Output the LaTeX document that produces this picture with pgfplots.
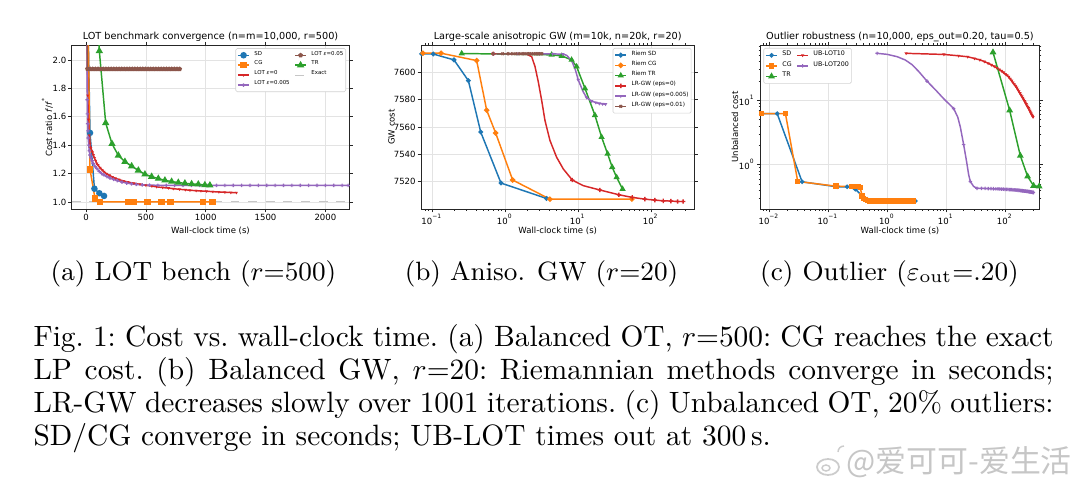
\documentclass[border=0pt]{standalone}
\usepackage{fontspec}
\usepackage{pgfplots}
\pgfplotsset{compat=1.18}
\newfontfamily\dejavu{DejaVu Sans}
\newfontfamily\cjk{Noto Sans CJK SC}
\definecolor{tblue}{HTML}{1F77B4}
\definecolor{torange}{HTML}{FF7F0E}
\definecolor{tgreen}{HTML}{2CA02C}
\definecolor{tred}{HTML}{D62728}
\definecolor{tpurple}{HTML}{9467BD}
\definecolor{tbrown}{HTML}{8C564B}
\newcommand\titlef{\dejavu\fontsize{3.3}{3.9}\selectfont}
\newcommand\labf{\dejavu\fontsize{2.9}{3.4}\selectfont}
\newcommand\tickf{\dejavu\fontsize{2.9}{3.4}\selectfont}
\newcommand\legA{\dejavu\fontsize{1.85}{2.2}\selectfont}
\newcommand\legB{\dejavu\fontsize{1.95}{2.3}\selectfont}
\newcommand\legC{\dejavu\fontsize{2.15}{2.5}\selectfont}
\newcommand\capf{\fontsize{10}{11.2}\selectfont\frenchspacing}
\pgfdeclareplotmark{v}{\pgfpathmoveto{\pgfqpoint{0pt}{-\pgfplotmarksize}}\pgfpathlineto{\pgfqpoint{0.866\pgfplotmarksize}{0.5\pgfplotmarksize}}\pgfpathlineto{\pgfqpoint{-0.866\pgfplotmarksize}{0.5\pgfplotmarksize}}\pgfpathclose\pgfusepathqfill}
\pgfdeclareplotmark{P}{\pgfpathrectangle{\pgfqpoint{-\pgfplotmarksize}{-0.33\pgfplotmarksize}}{\pgfqpoint{2\pgfplotmarksize}{0.66\pgfplotmarksize}}\pgfpathrectangle{\pgfqpoint{-0.33\pgfplotmarksize}{-\pgfplotmarksize}}{\pgfqpoint{0.66\pgfplotmarksize}{2\pgfplotmarksize}}\pgfusepathqfill}
\pgfplotsset{
  mpl/.style={
    scale only axis, anchor=south west, height=55.76pt,
    axis line style={line width=0.28pt, black!85},
    tick style={line width=0.25pt, black!85},
    tick align=outside, major tick length=1.15pt, minor tick length=0.65pt,
    xmajorgrids, ymajorgrids,
    major grid style={line width=0.22pt, gray!22},
    /pgf/number format/assume math mode=true,
    /pgf/number format/1000 sep={},
    tick label style={font=\tickf, inner sep=0.5pt},
    title style={font=\titlef, inner sep=0pt, anchor=base, at={(axis description cs:0.5,1)}, yshift=-4.2pt},
    xlabel style={font=\labf, inner sep=0pt, anchor=base, at={(axis description cs:0.5,0)}, yshift=-8.3pt},
    ylabel style={font=\labf, inner sep=0pt, anchor=center, at={(axis description cs:0,0.5)}},
    legend cell align=left,
    legend image code/.code={\draw[mark repeat=2,mark phase=2] plot coordinates {(0pt,0pt) (1.9pt,0pt) (3.8pt,0pt)};},
    legend style={draw=gray!35, line width=0.2pt, rounded corners=0.5pt, fill=white, inner sep=0.5pt, row sep=-0.2pt, column sep=1.2pt, nodes={inner sep=0.35pt}},
  },
  lw/.style={line width=0.5pt},
}
\begin{document}
\begin{tikzpicture}
\path[use as bounding box] (0,0) rectangle (367.2pt,-166.26pt);
% ---------------- (a) ----------------
\begin{axis}[mpl, at={(24.38pt,-71.06pt)}, width=94.38pt,
  xmin=-120, xmax=2200, ymin=0.95, ymax=2.105,
  xtick={0,500,1000,1500,2000}, ytick={1.0,1.2,1.4,1.6,1.8,2.0},
  yticklabel style={/pgf/number format/.cd,fixed,fixed zerofill,precision=1},
  title={LOT benchmark convergence (n=m=10,000, r=500)},
  xlabel={Wall-clock time (s)},
  ylabel={Cost ratio \textit{f}/\textit{f}\textsuperscript{*}},
  ylabel style={yshift=8.3pt},
  legend columns=2,
  legend style={at={(axis description cs:1,1)}, anchor=north east, xshift=-1.1pt, yshift=-1.1pt, font=\legA},
]
\addlegendimage{tblue, lw, mark=*, mark size=0.85pt}\addlegendentry{SD}
\addlegendimage{tbrown, lw, mark=pentagon*, mark size=0.55pt}\addlegendentry{LOT \textit{ε}=0.05}
\addlegendimage{torange, lw, mark=square*, mark size=0.8pt}\addlegendentry{CG}
\addlegendimage{tgreen, lw, mark=triangle*, mark size=0.95pt}\addlegendentry{TR}
\addlegendimage{tred, lw, mark=v, mark size=0.6pt}\addlegendentry{LOT \textit{ε}=0}
\addlegendimage{gray!45, line width=0.35pt, dashed}\addlegendentry{Exact}
\addlegendimage{tpurple, lw, mark=P, mark size=0.6pt}\addlegendentry{LOT \textit{ε}=0.005}
\addplot[gray!45, line width=0.35pt, dashed, forget plot] coordinates {(-120,1) (2200,1)};
\addplot[tblue, lw, mark=*, mark size=0.85pt, forget plot] coordinates {(0,3.0) (33,1.486) (70,1.093) (111,1.061) (150,1.042)};
\addplot[torange, lw, mark=square*, mark size=0.85pt, forget plot] coordinates {(3,3.2) (33,1.229) (75,1.023) (117,1.0) (350,1.0) (395,1.0) (512,1.0) (632,1.0) (705,1.0) (979,1.0) (1058,1.0)};
\addplot[tred, lw, mark=v, mark size=0.6pt, forget plot] coordinates {(6,2.3) (14,1.75) (20,1.58) (27,1.47) (33,1.41) (40,1.38) (47,1.36) (54,1.35) (61,1.33) (70,1.31) (80,1.29) (90,1.27) (100,1.26) (117,1.24) (135,1.225) (150,1.212) (172,1.198) (195,1.187) (220,1.176) (245,1.166) (275,1.157) (312,1.148) (350,1.140) (400,1.131) (451,1.124) (500,1.117) (550,1.111) (590,1.106) (640,1.101) (690,1.097) (729,1.093) (780,1.089) (830,1.085) (868,1.082) (920,1.079) (960,1.077) (1007,1.075) (1060,1.072) (1110,1.070) (1160,1.068) (1210,1.066) (1257,1.065)};
\addplot[tpurple, lw, mark=P, mark size=0.6pt, forget plot] coordinates {(8,2.2) (10,1.72) (12,1.62) (14,1.55) (16,1.50) (18,1.45) (22,1.40) (27,1.36) (33,1.33) (40,1.31) (50,1.29) (60,1.27) (75,1.25) (90,1.235) (110,1.215) (130,1.20) (150,1.19) (175,1.178) (200,1.168) (230,1.158) (260,1.150) (300,1.140) (340,1.133) (380,1.127) (420,1.123) (470,1.120) (530,1.118) (600,1.117) (670,1.116) (740,1.116) (810,1.116) (880,1.116) (950,1.116) (1020,1.116) (1090,1.116) (1160,1.116) (1230,1.116) (1300,1.116) (1370,1.116) (1440,1.116) (1510,1.116) (1580,1.116) (1650,1.116) (1720,1.116) (1790,1.116) (1860,1.116) (1930,1.116) (2000,1.116) (2070,1.116) (2140,1.116) (2190,1.116)};
\addplot[tbrown, lw, mark=pentagon*, mark size=0.55pt, forget plot] coordinates {(6,2.6) (12,1.937) (34,1.936) (56,1.936) (78,1.936) (100,1.936) (122,1.936) (144,1.936) (166,1.936) (188,1.936) (210,1.936) (232,1.936) (254,1.936) (276,1.936) (298,1.936) (320,1.936) (342,1.936) (364,1.936) (386,1.936) (408,1.936) (430,1.936) (452,1.936) (474,1.936) (496,1.936) (518,1.936) (540,1.936) (562,1.936) (584,1.936) (606,1.936) (628,1.936) (650,1.936) (672,1.936) (694,1.936) (716,1.936) (738,1.936) (760,1.936) (782,1.936)};
\addplot[tgreen, lw, mark=triangle*, mark size=0.95pt, forget plot] coordinates {(58,3.2) (111,2.063) (164,1.556) (217,1.409) (270,1.327) (325,1.283) (381,1.252) (437,1.222) (492,1.194) (548,1.178) (604,1.164) (659,1.152) (715,1.143) (771,1.136) (826,1.131) (882,1.126) (938,1.124) (993,1.119) (1035,1.117)};
\end{axis}
% ---------------- (b) ----------------
\begin{axis}[mpl, at={(143.14pt,-71.06pt)}, width=92.96pt,
  xmode=log, xmin=0.0706, xmax=395, ymin=7500, ymax=7620,
  xtick={0.1,1,10,100},
  xticklabels={10\textsuperscript{−1},10\textsuperscript{0},10\textsuperscript{1},10\textsuperscript{2}},
  minor xtick={0.08,0.09,0.2,0.3,0.4,0.5,0.6,0.7,0.8,0.9,2,3,4,5,6,7,8,9,20,30,40,50,60,70,80,90,200,300},
  ytick={7520,7540,7560,7580,7600},
  title={Large-scale anisotropic GW (m=10k, n=20k, r=20)},
  xlabel={Wall-clock time (s)},
  ylabel={GW cost},
  ylabel style={yshift=10pt},
  legend style={at={(axis description cs:1,1)}, anchor=north east, xshift=-1pt, yshift=-1pt, font=\legB},
]
\addlegendimage{tblue, lw, mark=*, mark size=0.55pt}\addlegendentry{Riem SD}
\addlegendimage{torange, lw, mark=*, mark size=0.65pt}\addlegendentry{Riem CG}
\addlegendimage{tgreen, lw, mark=triangle*, mark size=0.75pt}\addlegendentry{Riem TR}
\addlegendimage{tred, lw, mark=P, mark size=0.75pt}\addlegendentry{LR-GW (eps=0)}
\addlegendimage{tpurple, lw, mark=v, mark size=0.7pt}\addlegendentry{LR-GW (eps=0.005)}
\addlegendimage{tbrown, lw, mark=x, mark size=0.6pt}\addlegendentry{LR-GW (eps=0.01)}
\addplot[tblue, lw, mark=*, mark size=0.55pt, forget plot] coordinates {(0.072,7613.5) (0.104,7613.4) (0.200,7609.1) (0.315,7593.9) (0.465,7556.3) (0.881,7519.0) (3.72,7507.7)};
\addplot[torange, lw, mark=*, mark size=0.65pt, forget plot] coordinates {(0.075,7614) (0.133,7614) (0.409,7608.6) (0.561,7572.3) (0.745,7555.6) (1.274,7521.2) (4.13,7507.2) (55,7507.3)};
\addplot[tgreen, lw, mark=triangle*, mark size=0.75pt, forget plot] coordinates {(0.255,7613.8) (4.36,7612.8) (6.0,7612.0) (8.19,7609.1) (9.59,7604.2) (12.5,7588.2) (17.1,7568.6) (21.1,7552.6) (25.5,7540.4) (29.5,7530.6) (33.9,7523.2) (40.9,7514.6)};
\addplot[tred, lw, forget plot] coordinates {(0.692,7613.6) (1.0,7613.6) (1.5,7613.5) (1.98,7613.3) (2.32,7611.5) (2.58,7604.2) (2.86,7593.1) (3.18,7579.6) (3.53,7564.9) (4.13,7550.2) (5.10,7537.9) (6.30,7529.3) (8.36,7521.2) (11.8,7517.1) (20.0,7513.9) (36.5,7510.4) (55.5,7508.5) (82.8,7507.2) (113.6,7506.5) (147.7,7506.0) (188,7505.8) (232,7505.5) (277,7505.5)};
\addplot[tred, only marks, mark=P, mark size=0.75pt, forget plot] coordinates {(0.692,7613.6) (8.36,7521.2) (20.0,7513.9) (36.5,7510.4) (55.5,7508.5) (82.8,7507.2) (113.6,7506.5) (147.7,7506.0) (188,7505.8) (232,7505.5) (277,7505.5)};
\addplot[tpurple, lw, forget plot] coordinates {(0.69,7613.6) (1.5,7613.6) (3,7613.6) (4.5,7613.5) (6.2,7613.3) (7.0,7612.5) (8.2,7608.5) (9.2,7602) (10.1,7594.4) (11.8,7585.8) (13.1,7581.6) (15.4,7578.9) (17.6,7577.9) (19.6,7577.2) (21.8,7576.9) (23.9,7576.7)};
\addplot[tpurple, only marks, mark=v, mark size=0.7pt, forget plot] coordinates {(0.69,7613.6) (1.5,7613.6) (3,7613.6) (4.5,7613.5) (6.2,7613.3) (10.1,7594.4) (13.1,7581.6) (15.4,7578.9) (17.6,7577.9) (19.6,7577.2) (21.8,7576.9) (23.9,7576.7)};
\addplot[tbrown, lw, mark=x, mark size=0.6pt, forget plot] coordinates {(0.69,7613.6) (0.93,7613.6) (1.1,7613.6) (1.25,7613.6) (1.4,7613.6) (1.55,7613.6) (1.7,7613.6) (1.85,7613.6) (2.0,7613.6) (2.15,7613.6) (2.3,7613.6) (2.45,7613.6) (2.6,7613.6) (2.75,7613.6) (2.9,7613.6) (3.05,7613.6) (3.2,7613.6)};
\end{axis}
% ---------------- (c) ----------------
\begin{axis}[mpl, at={(258.57pt,-71.06pt)}, width=94.86pt,
  xmode=log, ymode=log, xmin=0.00713, xmax=385, ymin=0.205, ymax=72.2,
  xtick={0.01,0.1,1,10,100},
  xticklabels={10\textsuperscript{−2},10\textsuperscript{−1},10\textsuperscript{0},10\textsuperscript{1},10\textsuperscript{2}},
  minor xtick={0.008,0.009,0.02,0.03,0.04,0.05,0.06,0.07,0.08,0.09,0.2,0.3,0.4,0.5,0.6,0.7,0.8,0.9,2,3,4,5,6,7,8,9,20,30,40,50,60,70,80,90,200,300},
  ytick={1,10},
  yticklabels={10\textsuperscript{0},10\textsuperscript{1}},
  minor ytick={0.3,0.4,0.5,0.6,0.7,0.8,0.9,2,3,4,5,6,7,8,9,20,30,40,50,60,70},
  title={Outlier robustness (n=10,000, eps\_out=0.20, tau=0.5)},
  xlabel={Wall-clock time (s)},
  ylabel={Unbalanced cost},
  ylabel style={yshift=8.7pt},
  legend columns=2,
  legend style={at={(axis description cs:0,1)}, anchor=north west, xshift=1pt, yshift=-1pt, font=\legC},
]
\addlegendimage{tblue, lw, mark=*, mark size=0.5pt}\addlegendentry{SD}
\addlegendimage{tred, lw, mark=v, mark size=0.65pt}\addlegendentry{UB-LOT10}
\addlegendimage{torange, lw, mark=square*, mark size=0.65pt}\addlegendentry{CG}
\addlegendimage{tpurple, lw, mark=P, mark size=0.6pt}\addlegendentry{UB-LOT200}
\addlegendimage{tgreen, lw, mark=triangle*, mark size=0.85pt}\addlegendentry{TR}
\addplot[tblue, lw, mark=*, mark size=0.5pt, forget plot] coordinates {(0.0075,6.19) (0.0137,6.19) (0.0362,0.542) (0.142,0.453) (0.21,0.453) (0.29,0.417) (0.377,0.328) (0.458,0.29) (3.02,0.274)};
\addplot[torange, lw, mark=square*, mark size=0.65pt, forget plot] coordinates {(0.0075,6.19) (0.0189,6.19) (0.0305,0.549) (0.133,0.465) (0.14,0.465) (0.255,0.455) (0.29,0.455) (0.331,0.458) (0.35,0.44) (0.377,0.328) (0.40,0.30) (0.43,0.285) (0.47,0.277) (0.5,0.274) (0.55,0.273) (0.6,0.272) (0.66,0.272) (0.72,0.272) (0.8,0.272) (0.88,0.272) (0.96,0.272) (1.05,0.272) (1.15,0.272) (1.26,0.272) (1.38,0.272) (1.5,0.272) (1.65,0.272) (1.8,0.272) (1.97,0.272) (2.15,0.272) (2.35,0.272) (2.57,0.272) (2.8,0.272)};
\addplot[tred, lw, mark=v, mark size=0.65pt, forget plot] coordinates {(2.1,53.6) (9.2,51.5) (16.3,49.1) (23.3,47.4) (30.4,44.6) (37.5,42.4) (44.6,40.0) (51.7,37.6) (58.7,35.5) (65.8,33.6) (72.9,31.8) (80.0,30.0) (87.1,28.6) (94.1,27.1) (101.2,25.6) (108.3,24.5) (115.4,23.1) (122.5,21.6) (129.5,20.2) (136.6,18.9) (143.7,17.7) (150.8,16.7) (157.9,15.7) (164.9,14.7) (172.0,13.8) (179.1,12.9) (186.2,12.2) (193.3,11.5) (200.3,10.9) (207.4,10.3) (214.5,9.7) (221.6,9.2) (228.7,8.7) (235.7,8.3) (242.8,7.9) (249.9,7.55) (257.0,7.2) (264.1,6.85) (271.1,6.5) (278.2,6.2) (285.3,5.95) (292.4,5.72) (299.5,5.5)};
\addplot[tpurple, lw, forget plot] coordinates {(0.677,53.6) (1.0,51.7) (1.477,47.6) (2.04,42.2) (2.65,35.8) (3.44,28.0) (4.76,19.8) (6.59,14.6) (9.11,10.6) (11.84,8.36) (13.5,7.41) (15.8,5.49) (17.5,3.83) (19.9,2.05) (22.2,1.15) (24.2,0.70) (25.8,0.549) (29.4,0.459) (33.5,0.43) (40,0.428) (46,0.427) (52,0.426) (58,0.425) (64,0.423) (70,0.422) (76,0.421) (82,0.419) (88,0.418) (94,0.417) (100,0.415) (106,0.414) (112,0.413) (118,0.411) (124,0.41) (130,0.409) (136,0.407) (142,0.406) (148,0.405) (154,0.403) (160,0.402) (166,0.401) (172,0.399) (178,0.398) (184,0.397) (190,0.395) (196,0.394) (202,0.393) (208,0.391) (214,0.39) (220,0.389) (226,0.388) (232,0.386) (238,0.385) (244,0.384) (250,0.382) (256,0.381) (262,0.38) (268,0.378) (274,0.377) (280,0.376) (286,0.374) (292,0.373) (298,0.372) (304,0.37)};
\addplot[tpurple, only marks, mark=P, mark size=0.6pt, forget plot] coordinates {(0.677,53.6) (4.76,19.8) (13.5,7.41) (19.9,2.05) (25.8,0.549) (33.5,0.43) (40,0.428) (46,0.427) (52,0.426) (58,0.425) (64,0.423) (70,0.422) (76,0.421) (82,0.419) (88,0.418) (94,0.417) (100,0.415) (106,0.414) (112,0.413) (118,0.411) (124,0.41) (130,0.409) (136,0.407) (142,0.406) (148,0.405) (154,0.403) (160,0.402) (166,0.401) (172,0.399) (178,0.398) (184,0.397) (190,0.395) (196,0.394) (202,0.393) (208,0.391) (214,0.39) (220,0.389) (226,0.388) (232,0.386) (238,0.385) (244,0.384) (250,0.382) (256,0.381) (262,0.38) (268,0.378) (274,0.377) (280,0.376) (286,0.374) (292,0.373) (298,0.372) (304,0.37)};
\addplot[tgreen, lw, mark=triangle*, mark size=0.85pt, forget plot] coordinates {(62.6,55.6) (120,6.98) (182,1.38) (242,0.657) (306,0.47) (380,0.46)};
\end{axis}
% ---------------- captions ----------------
\begin{scope}[x=0.34pt,y=-0.34pt]
\node[anchor=base, inner sep=0pt] at (193.5,280) {\small (a) LOT bench ($r$=500)};
\node[anchor=base, inner sep=0pt] at (541.5,280) {\small (b) Aniso. GW ($r$=20)};
\node[anchor=base, inner sep=0pt] at (889.5,280) {\small (c) Outlier ($\varepsilon_{\mathrm{out}}$=.20)};
\node[anchor=base west, inner sep=0pt] at (33,346) {\capf\hbox to 346.8pt{Fig.~1: Cost vs. wall-clock time. (a) Balanced OT, $r$=500: CG reaches the exact}};
\node[anchor=base west, inner sep=0pt] at (33,379) {\capf\hbox to 346.8pt{LP cost. (b) Balanced GW, $r$=20: Riemannian methods converge in seconds;}};
\node[anchor=base west, inner sep=0pt] at (33,412) {\capf\hbox to 346.8pt{LR-GW decreases slowly over 1001 iterations. (c) Unbalanced OT, 20\% outliers:}};
\node[anchor=base west, inner sep=0pt] at (33,445) {\capf SD/CG converge in seconds; UB-LOT times out at 300\,s.};
\draw[gray!40, line width=0.6pt] (828,467) ellipse (11 and 8);
\draw[gray!40, line width=0.5pt] (826,468) ellipse (4 and 3);
\draw[gray!40, line width=0.5pt] (838,452) arc (180:270:6);
\node[anchor=base west, inner sep=0pt, text=gray!45] at (846,472) {\cjk\fontsize{10.5}{12}\selectfont @爱可可-爱生活};
\end{scope}
\end{tikzpicture}
\end{document}
